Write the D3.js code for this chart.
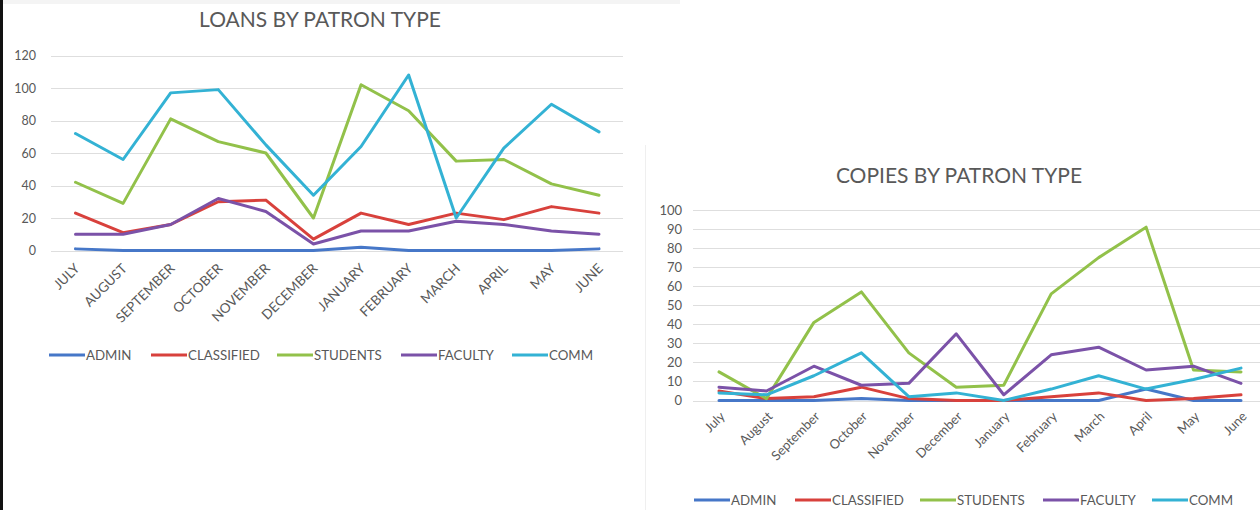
<!DOCTYPE html>
<html><head><meta charset="utf-8">
<script src="https://cdn.jsdelivr.net/npm/d3@7"></script>
<style>
html,body{margin:0;padding:0;background:#fff;}
svg{display:block;font-family:Lato,"Open Sans",sans-serif;}
</style></head>
<body>
<svg id="c" width="1260" height="510"></svg>
<script>
// ---- data ----
const seriesNames = ["ADMIN","CLASSIFIED","STUDENTS","FACULTY","COMM"];
const seriesColors = ["#4677c8","#d8413c","#92c14a","#7b52a8","#33b2d4"];

const loanMonths = ["JULY","AUGUST","SEPTEMBER","OCTOBER","NOVEMBER","DECEMBER","JANUARY","FEBRUARY","MARCH","APRIL","MAY","JUNE"];
const loansAdmin      = [1,0,0,0,0,0,2,0,0,0,0,1];
const loansClassified = [23,11,16,30,31,7,23,16,23,19,27,23];
const loansStudents   = [42,29,81,67,60,20,102,86,55,56,41,34];
const loansFaculty    = [10,10,16,32,24,4,12,12,18,16,12,10];
const loansComm       = [72,56,97,99,65,34,64,108,20,63,90,73];
const loanTicks = [0,20,40,60,80,100,120];

const copyMonths = ["July","August","September","October","November","December","January","February","March","April","May","June"];
const copiesAdmin      = [0,0,0,1,0,0,0,0,0,6,0,0];
const copiesClassified = [5,1,2,7,1,0,0,2,4,0,1,3];
const copiesStudents   = [15,1,41,57,25,7,8,56,75,91,16,15];
const copiesFaculty    = [7,5,18,8,9,35,3,24,28,16,18,9];
const copiesComm       = [4,3,13,25,2,4,0,6,13,6,11,17];
const copyTicks = [0,10,20,30,40,50,60,70,80,90,100];

const svg = d3.select("#c");
const textColor = "#595959";

// background details
svg.append("rect").attr("x",0).attr("y",0).attr("width",680).attr("height",4).attr("fill","#f4f4f4");
svg.append("rect").attr("x",0).attr("y",0).attr("width",3).attr("height",510).attr("fill","#111");
svg.append("line").attr("x1",645.5).attr("x2",645.5).attr("y1",145).attr("y2",510).attr("stroke","#efefef");

function drawChart(cfg){
  const g = svg.append("g");
  const x = d3.scalePoint().domain(cfg.months).range([cfg.x0, cfg.x1]);
  const y = d3.scaleLinear().domain([0, cfg.ymax]).range([cfg.yBottom, cfg.yTop]);

  // title
  g.append("text").attr("x",cfg.titleX).attr("y",cfg.titleY).attr("text-anchor","middle")
    .attr("font-size",cfg.titleSize).attr("fill",textColor).text(cfg.title);

  // gridlines
  g.append("g").selectAll("line").data(cfg.ticks).join("line")
    .attr("x1",cfg.gx0).attr("x2",cfg.gx1)
    .attr("y1",d=>Math.round(y(d))+0.5).attr("y2",d=>Math.round(y(d))+0.5)
    .attr("stroke","#dedede").attr("stroke-width",1);

  // y axis labels
  const ya = d3.axisLeft(y).tickValues(cfg.ticks).tickSize(0).tickPadding(0);
  const yg = g.append("g").attr("transform",`translate(${cfg.yLabelX},0)`).call(ya);
  yg.select(".domain").remove();
  yg.selectAll("text").attr("fill",textColor).attr("font-size",cfg.yFont).attr("font-family","Lato,'Open Sans',sans-serif");

  // x axis labels
  const xa = d3.axisBottom(x).tickSize(0).tickPadding(0);
  const xg = g.append("g").attr("transform",`translate(0,${cfg.xLabelY})`).call(xa);
  xg.select(".domain").remove();
  xg.selectAll("text").attr("fill",textColor).attr("font-size",cfg.xFont)
    .attr("font-family","Lato,'Open Sans',sans-serif")
    .attr("text-anchor","end").attr("dy","0.35em")
    .attr("transform",`translate(${cfg.xLabelDx},0) rotate(-45)`);

  // lines
  const line = d3.line().x((d,i)=>x(cfg.months[i])).y(d=>y(d));
  cfg.series.forEach((s,k)=>{
    g.append("path").datum(s).attr("d",line).attr("fill","none")
      .attr("stroke",seriesColors[k]).attr("stroke-width",3)
      .attr("stroke-linejoin","round").attr("stroke-linecap","round");
  });

  // legend
  const lg = g.append("g");
  seriesNames.forEach((n,k)=>{
    const lx = cfg.legendX[k];
    lg.append("line").attr("x1",lx).attr("x2",lx+36).attr("y1",cfg.legendY).attr("y2",cfg.legendY)
      .attr("stroke",seriesColors[k]).attr("stroke-width",3);
    lg.append("text").attr("x",lx+37).attr("y",cfg.legendY).attr("dy","0.35em")
      .attr("font-size",cfg.legendFont).attr("fill",textColor).text(n);
  });
}

drawChart({
  title:"LOANS BY PATRON TYPE", titleX:320, titleY:27, titleSize:21,
  months:loanMonths, ticks:loanTicks, ymax:120,
  x0:75.5, x1:599, gx0:51, gx1:623,
  yBottom:250.5, yTop:55.5,
  yLabelX:36, yFont:12.5,
  xLabelY:266, xLabelDx:1, xFont:13.5,
  series:[loansAdmin,loansClassified,loansStudents,loansFaculty,loansComm],
  legendX:[49,151,277,401,512], legendY:355, legendFont:13.3
});

drawChart({
  title:"COPIES BY PATRON TYPE", titleX:959, titleY:183, titleSize:21,
  months:copyMonths, ticks:copyTicks, ymax:100,
  x0:719, x1:1241, gx0:693, gx1:1260,
  yBottom:400.5, yTop:210,
  yLabelX:682, yFont:13,
  xLabelY:414, xLabelDx:3, xFont:13,
  series:[copiesAdmin,copiesClassified,copiesStudents,copiesFaculty,copiesComm],
  legendX:[694,795,920,1043,1152], legendY:500, legendFont:13.3
});
</script>
</body></html>
